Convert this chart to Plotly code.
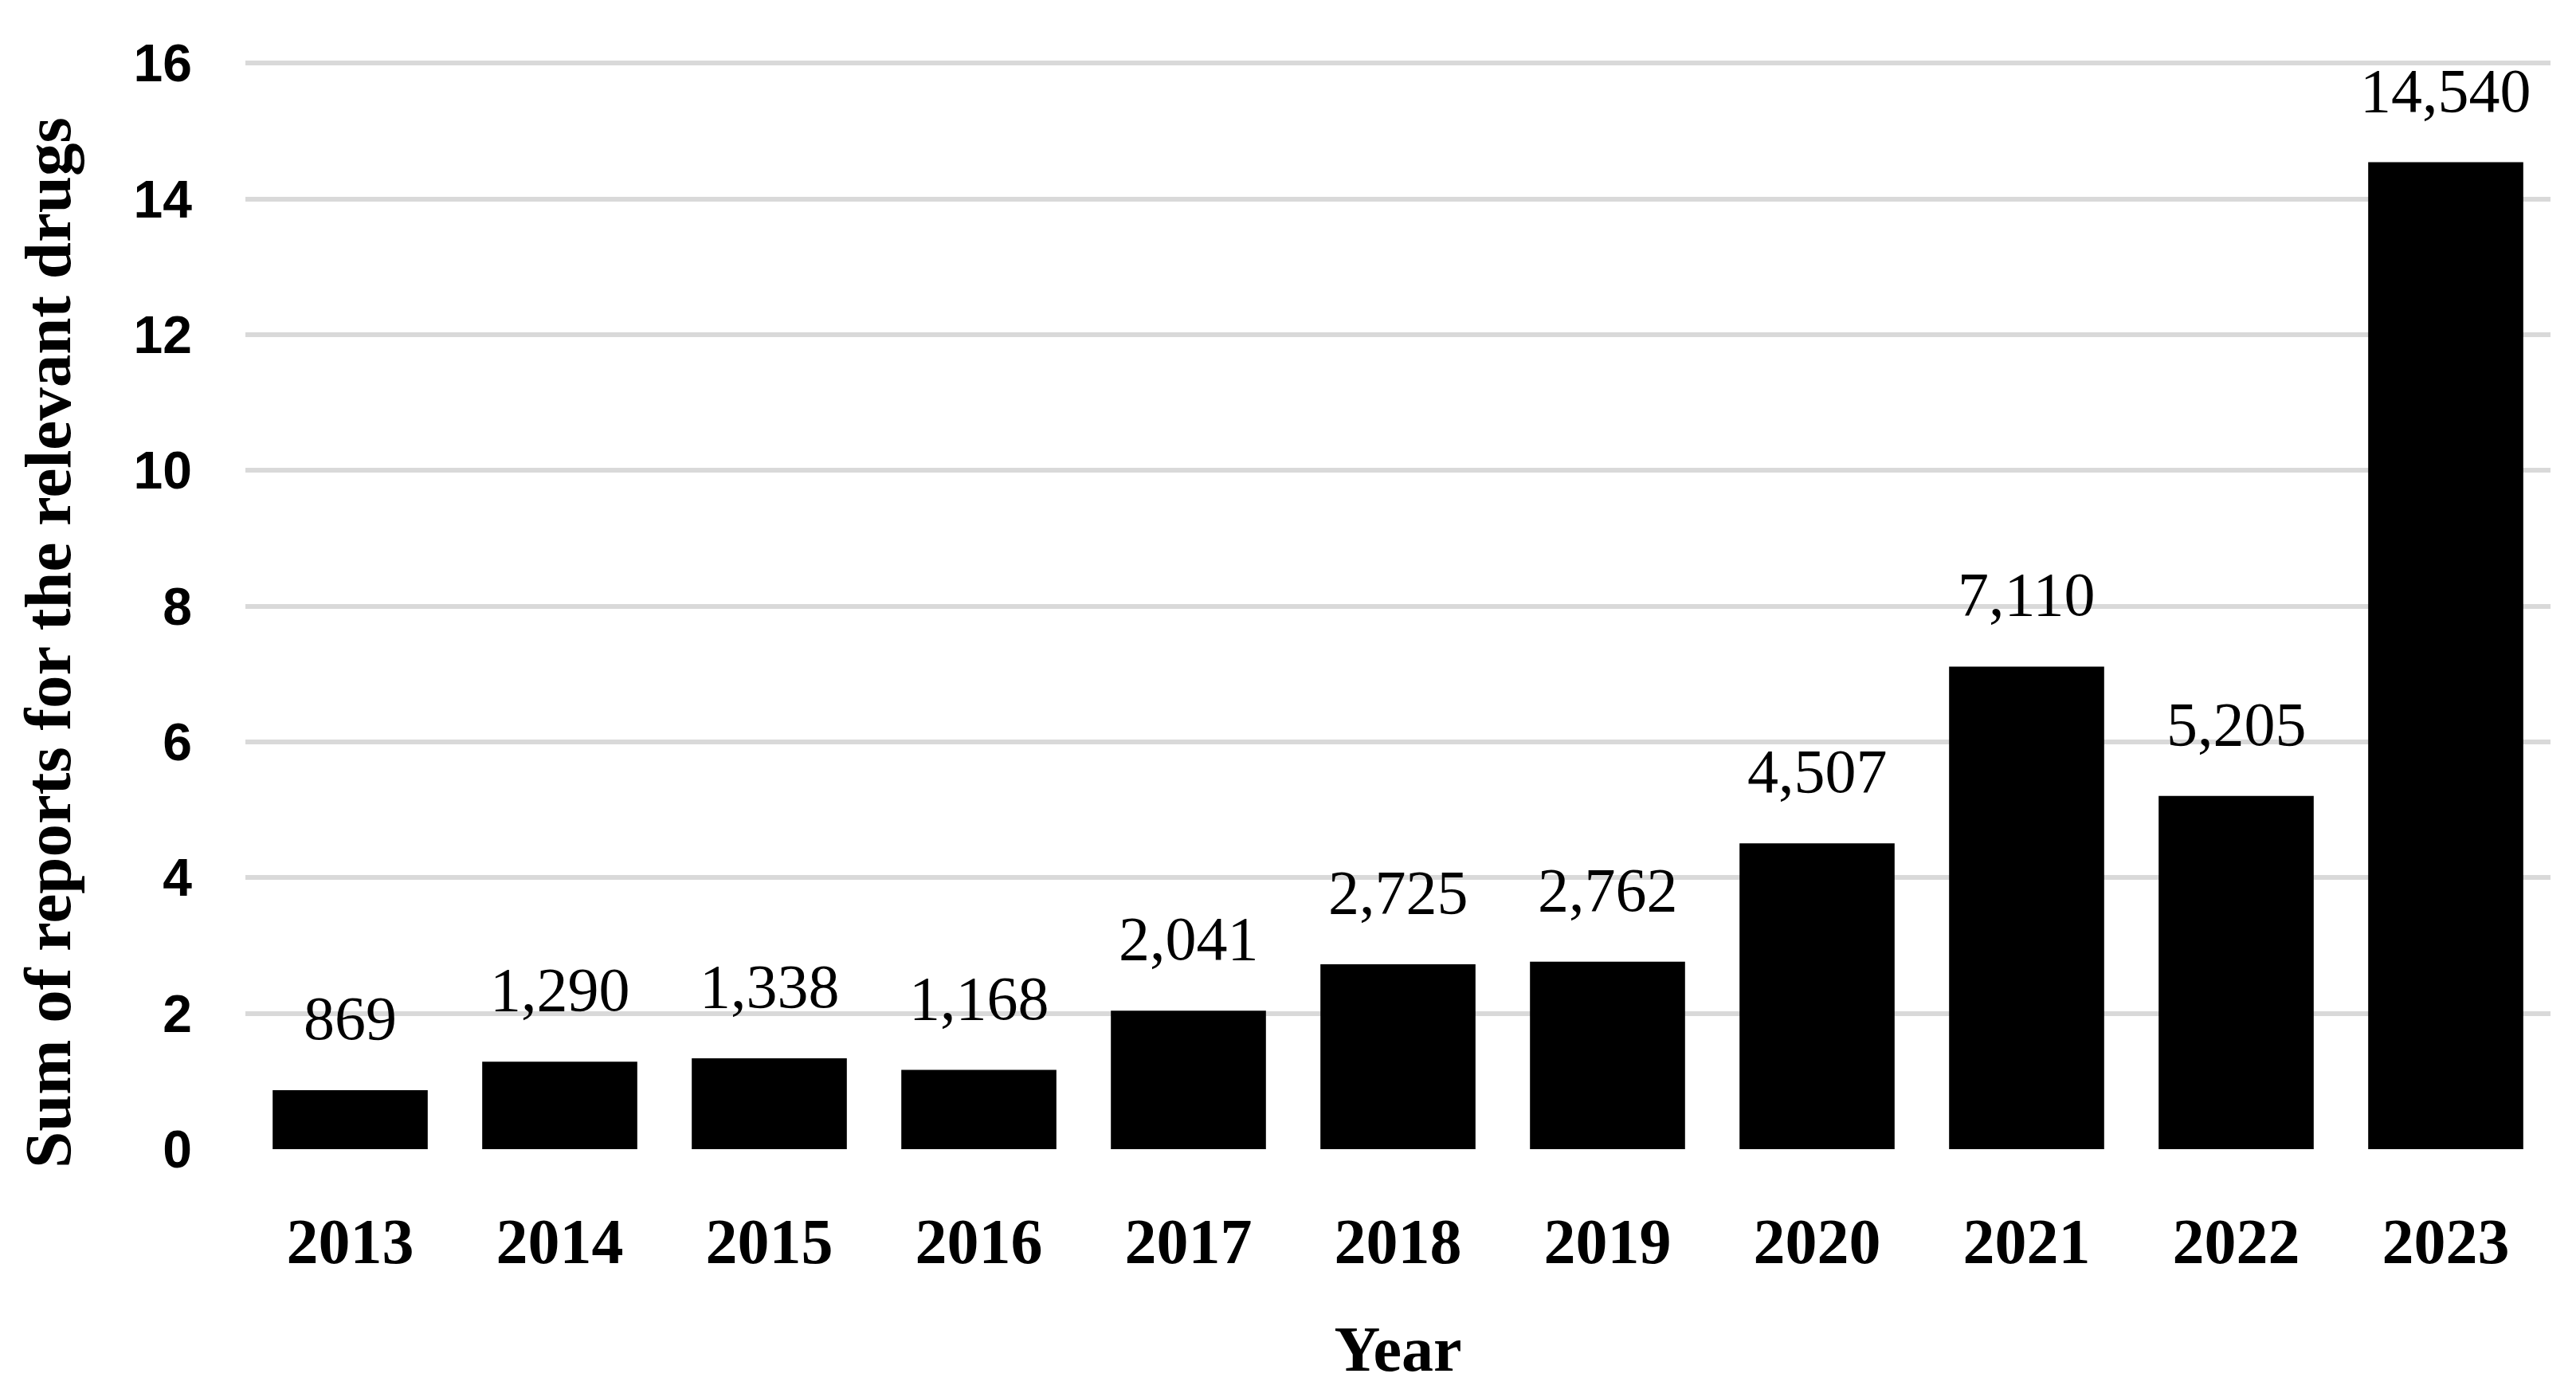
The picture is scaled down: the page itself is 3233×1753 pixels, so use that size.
import plotly.graph_objects as go

years = ["2013", "2014", "2015", "2016", "2017", "2018", "2019", "2020", "2021", "2022", "2023"]
reports = [869, 1290, 1338, 1168, 2041, 2725, 2762, 4507, 7110, 5205, 14540]
y_ticks = [0, 2, 4, 6, 8, 10, 12, 14, 16]

y_thousands = [v / 1000 for v in reports]
labels = [f"{v:,}" for v in reports]

fig = go.Figure()
fig.add_trace(go.Bar(x=years, y=y_thousands, marker=dict(color="black", line=dict(width=0)),
                     hoverinfo="skip"))

for i, (v, t) in enumerate(zip(y_thousands, labels)):
    fig.add_annotation(x=i, y=v, xref="x", yref="y", text=t, showarrow=False,
                       yanchor="bottom", yshift=45,
                       font=dict(family="Liberation Serif", size=78, color="black"))

# y-axis title (offset downward as in the reference)
fig.add_annotation(x=-0.0855, y=0.465, xref="paper", yref="paper",
                   text="<b>Sum of reports for the relevant drugs</b>", textangle=-90,
                   showarrow=False, xanchor="center", yanchor="middle",
                   font=dict(family="Liberation Serif", size=83, color="black"))

fig.update_layout(
    width=3233, height=1753,
    margin=dict(l=300, r=40, t=67, b=319),
    paper_bgcolor="white", plot_bgcolor="white",
    bargap=0.26, showlegend=False,
    xaxis=dict(
        type="category", range=[-0.5, 10.5], showgrid=False, zeroline=False, showline=False,
        tickfont=dict(family="Liberation Serif", size=80, color="black", weight="bold"),
        ticklabelstandoff=62,
        title=dict(text="<b>Year</b>", font=dict(family="Liberation Serif", size=80, color="black"),
                   standoff=62),
    ),
    yaxis=dict(
        range=[0, 16.05], tickvals=y_ticks, showgrid=True, gridcolor="#d9d9d9", gridwidth=6,
        zeroline=False, showline=False,
        tickfont=dict(family="Liberation Sans", size=66, color="black", weight="bold"),
        ticklabelstandoff=66,
    ),
)

fig.write_html("out.html")
